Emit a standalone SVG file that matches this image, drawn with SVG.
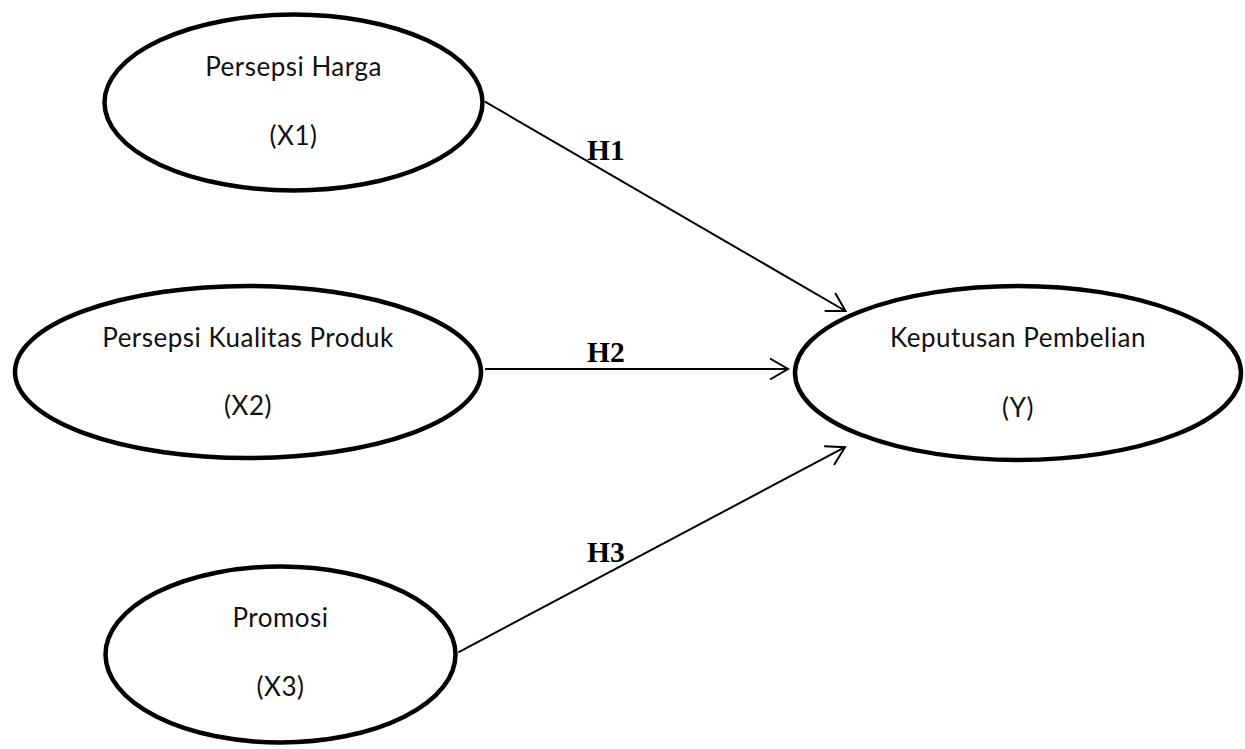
<svg xmlns="http://www.w3.org/2000/svg" width="1245" height="749" viewBox="0 0 1245 749">
  <style>
    .node ellipse { fill: #ffffff; stroke: #000000; stroke-width: 4.5; }
    .node text { font-family: Lato, "Open Sans", sans-serif; font-size: 26px; letter-spacing: 0.5px; fill: #111111; text-anchor: middle; }
    .conn line { stroke: #000000; stroke-width: 2; fill: none; }
    .lbl { font-family: "Liberation Serif", "Times New Roman", serif; font-weight: bold; font-size: 29.5px; fill: #000000; }
  </style>
  <defs>
    <marker id="arrow" markerUnits="userSpaceOnUse" viewBox="-22 -13 24 26" markerWidth="24" markerHeight="26" refX="0" refY="0" orient="auto" overflow="visible">
      <path d="M-18,-10.5 L0,0 L-18,10.5" fill="none" stroke="#000000" stroke-width="2"/>
    </marker>
  </defs>
  <rect width="1245" height="749" fill="#ffffff"/>

  <g class="conn" id="connectors">
    <line x1="485" y1="101.7" x2="845.5" y2="311" marker-end="url(#arrow)"/>
    <line x1="485" y1="369" x2="788" y2="369" marker-end="url(#arrow)"/>
    <line x1="458.3" y1="652.3" x2="845" y2="447.2" marker-end="url(#arrow)"/>
    <text class="lbl" x="587" y="160">H1</text>
    <text class="lbl" x="587" y="361.7">H2</text>
    <text class="lbl" x="587" y="561.7">H3</text>
  </g>

  <g class="node" id="x1">
    <ellipse cx="293.5" cy="102.5" rx="189" ry="88"/>
    <text x="293.5" y="75.7">Persepsi Harga</text>
    <text x="293.5" y="145">(X1)</text>
  </g>
  <g class="node" id="x2">
    <ellipse cx="248" cy="372" rx="233" ry="86"/>
    <text x="248" y="347">Persepsi Kualitas Produk</text>
    <text x="248" y="415">(X2)</text>
  </g>
  <g class="node" id="x3">
    <ellipse cx="280.5" cy="654.5" rx="175" ry="88"/>
    <text x="280.5" y="627">Promosi</text>
    <text x="280.5" y="696">(X3)</text>
  </g>
  <g class="node" id="y">
    <ellipse cx="1018" cy="373" rx="223" ry="87"/>
    <text x="1018" y="347">Keputusan Pembelian</text>
    <text x="1018" y="416.5">(Y)</text>
  </g>
</svg>
